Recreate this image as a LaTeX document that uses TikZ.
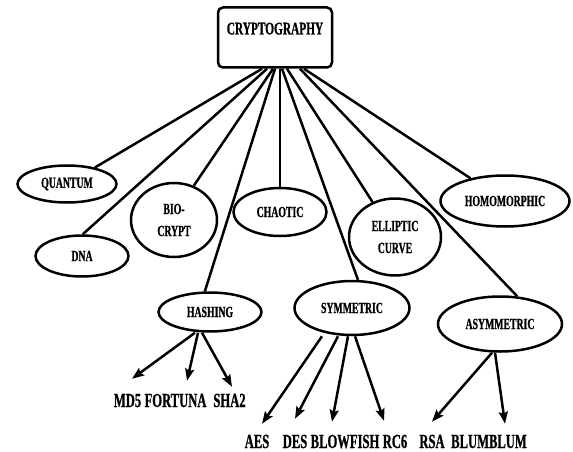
\documentclass[tikz,border=0pt]{standalone}
\usepackage{fontspec}
\newfontfamily\tnr{Liberation Serif}[FakeStretch=0.63,FakeBold=0.8]
\usetikzlibrary{arrows.meta,shapes.geometric}
\begin{document}
\begin{tikzpicture}[x=1pt,y=-1pt,
  line width=2.5pt,
  ellnode/.style={ellipse,draw,line width=2.5pt,inner sep=0pt,align=center,
     font=\tnr\bfseries\fontsize{15.5}{22}\selectfont},
  leaf/.style={inner sep=0pt,anchor=base,text height=13pt,text depth=0pt,
     font=\tnr\bfseries\fontsize{20}{24}\selectfont},
  link/.style={line width=2.5pt},
  arr/.style={line width=2.5pt,-{Stealth[length=12pt,width=9pt,inset=2pt]}}]
\useasboundingbox (0,0) rectangle (573,452);
\fill[white] (0,0) rectangle (573,452);

% root
\node[draw,rounded corners=5pt,line width=2.5pt,inner sep=0pt,
      minimum width=114pt,text height=27pt,text depth=33pt,
      font=\tnr\bfseries\fontsize{18}{20}\selectfont] (crypto) at (275,37.5) {CRYPTOGRAPHY};

% categories
\node[ellnode,minimum width=99pt,minimum height=37pt] (quantum) at (67,184) {QUANTUM};
\node[ellnode,minimum width=93pt,minimum height=41pt] (dna) at (82,256) {DNA};
\node[ellnode,minimum width=86pt,minimum height=74pt] (bio) at (174,220) {BIO-\\CRYPT};
\node[ellnode,minimum width=93pt,minimum height=48pt] (chaotic) at (280,212) {CHAOTIC};
\node[ellnode,minimum width=92pt,minimum height=77pt] (ell) at (395,237) {ELLIPTIC\\CURVE};
\node[ellnode,minimum width=129pt,minimum height=51pt] (homo) at (505,201) {HOMOMORPHIC};
\node[ellnode,minimum width=103pt,minimum height=39pt] (hash) at (210,312) {HASHING};
\node[ellnode,minimum width=115pt,minimum height=54pt] (symm) at (352,308) {SYMMETRIC};
\node[ellnode,minimum width=124pt,minimum height=55pt] (asym) at (500,324) {ASYMMETRIC};

% root connectors
\draw[link] ([xshift=-13pt]crypto.south) -- (quantum);
\draw[link] ([xshift=-8pt]crypto.south) -- (dna.88);
\draw[link] ([xshift=-2pt]crypto.south) -- (bio.60);
\draw[link] ([xshift=0pt]crypto.south) -- (hash.104);
\draw[link] ([xshift=5pt]crypto.south) -- (chaotic);
\draw[link] ([xshift=7pt]crypto.south) -- (symm.78);
\draw[link] ([xshift=12pt]crypto.south) -- (ell);
\draw[link] ([xshift=25pt]crypto.south) -- (asym.58);
\draw[link] ([xshift=29pt]crypto.south) -- (homo);

% leaves
\node[leaf] (md5) at (127.5,407) {MD5};
\node[leaf] (fortuna) at (175.5,407) {FORTUNA};
\node[leaf] (sha2) at (229.5,407) {SHA2};
\node[leaf] (aes) at (257,448) {AES};
\node[leaf] (des) at (295,448) {DES};
\node[leaf] (blowfish) at (345,448) {BLOWFISH};
\node[leaf] (rc6) at (395,448) {RC6};
\node[leaf] (rsa) at (432,448) {RSA};
\node[leaf] (blum) at (489,448) {BLUMBLUM};

% arrows
\draw[arr] ([xshift=-15pt]hash.south) -- ([shift={(4.5,-14)}]md5.north);
\draw[arr] ([xshift=-12pt]hash.south) -- ([shift={(11.5,-12)}]fortuna.north);
\draw[arr] ([xshift=-8pt]hash.south) -- ([shift={(2.5,-6)}]sha2.north);
\draw[arr] ([xshift=-30pt]symm.south) -- ([shift={(5,-10)}]aes.north);
\draw[arr] ([xshift=-14pt]symm.south) -- ([shift={(0,-15)}]des.north);
\draw[arr] ([xshift=-4pt]symm.south) -- ([shift={(-13,-12)}]blowfish.north);
\draw[arr] ([xshift=3pt]symm.south) -- ([shift={(-11,-13)}]rc6.north);
\draw[arr] ([xshift=-8pt]asym.south) -- ([shift={(0,-12)}]rsa.north);
\draw[arr] ([xshift=-5pt]asym.south) -- ([shift={(16,-10)}]blum.north);
\end{tikzpicture}
\end{document}
